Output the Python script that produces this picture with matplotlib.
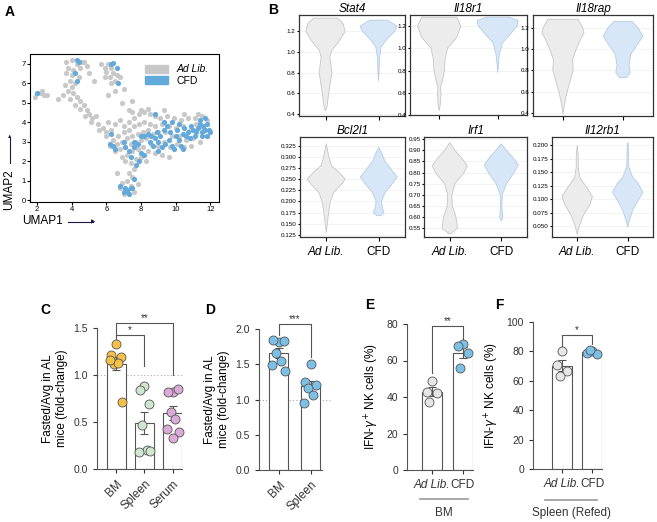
import numpy as np
import matplotlib.pyplot as plt
from matplotlib.patches import Patch
from matplotlib.lines import Line2D

plt.rcParams['font.family'] = ['Liberation Sans', 'DejaVu Sans']

W, H = 657, 522

# ---- panel A: UMAP points
al_pts = [(3.7,7.1),(4.0,7.2),(4.3,7.0),(4.6,7.1),(3.8,6.8),(4.1,6.7),(4.5,6.8),(4.9,6.9),(3.7,6.5),(4.0,6.4),
          (4.4,6.3),(3.9,6.1),(4.2,6.0),(3.6,5.9),(4.0,5.8),(3.8,5.6),(4.1,5.5),(3.5,5.4),(4.3,5.3),(3.9,5.2),
          (4.5,5.1),(4.2,4.9),(4.7,4.9),(4.5,4.7),(4.9,4.6),(5.0,4.4),(4.8,4.3),(5.2,4.2),(5.4,4.3),(5.1,4.0),
          (5.5,3.9),(5.8,3.7),(5.6,3.6),(6.0,3.5),(4.7,7.1),(5.0,6.5),(3.2,5.2),
          (5.7,7.0),(5.9,6.8),(6.1,7.0),(6.3,6.8),(6.0,6.6),(6.4,6.5),(6.2,6.3),(6.6,6.4),(5.9,6.3),(6.5,6.1),
          (6.8,6.3),(6.3,6.0),(5.3,6.1),(6.5,5.6),(6.1,5.4),(7.0,5.7),(7.5,5.1),(6.9,5.0),(7.3,4.6),
          (1.9,5.3),(2.2,5.5),(2.4,5.4),(2.6,5.4),(2.3,5.6),
          (6.0,3.3),(6.3,3.6),(6.5,3.9),(6.8,4.1),(7.0,3.8),(7.3,4.0),(7.6,4.2),(7.9,4.4),(8.2,4.5),(8.5,4.4),
          (8.8,4.3),(9.1,4.2),(9.5,4.3),(9.9,4.2),(10.3,4.1),(10.7,4.2),(11.1,4.2),(11.5,4.3),(11.8,4.1),
          (6.4,3.1),(6.7,3.3),(7.0,3.5),(7.3,3.6),(7.6,3.8),(7.9,3.9),(8.2,4.0),(8.5,3.9),(8.8,3.8),(9.2,3.9),
          (9.6,3.8),(10.0,3.7),(10.4,3.8),(10.8,3.6),(11.2,3.9),(11.6,3.7),
          (6.2,2.8),(6.6,2.9),(6.9,3.0),(7.2,3.2),(7.5,3.3),(7.8,3.4),(8.1,3.5),(8.4,3.6),(8.7,3.4),(9.0,3.5),
          (9.4,3.5),(9.8,3.3),(10.2,3.3),(10.6,3.1),(11.0,3.2),(11.4,3.0),(11.8,3.3),
          (6.5,2.5),(6.8,2.6),(7.1,2.7),(7.4,2.9),(7.7,3.0),(8.0,3.1),(8.3,3.2),(8.6,2.9),(9.0,2.8),(9.3,3.0),
          (9.7,2.7),(10.1,2.9),(10.5,2.7),(10.9,2.8),
          (6.9,2.2),(7.2,2.3),(7.5,2.5),(7.8,2.6),(8.1,2.7),(8.4,2.5),(8.8,2.4),(9.2,2.3),(9.6,2.2),(7.1,2.0),
          (7.4,1.9),(7.7,2.1),(8.0,2.2),(8.3,2.0),
          (7.6,1.6),(7.3,1.4),(7.5,1.2),(7.2,1.0),(6.9,0.9),(6.8,0.6),(6.6,1.4),(7.0,0.3),(7.6,0.4),(7.8,0.8),
          (7.4,0.7),(8.0,4.6),(8.4,4.7),(7.5,4.5),(9.3,4.6),(10.5,4.4),(11.3,4.4),(6.1,4.0)]
cfd_pts = [(4.3,7.2),(4.4,7.1),(4.2,6.5),(4.3,6.1),(6.3,7.0),(6.4,7.05),(6.6,6.8),(6.7,6.0),(2.0,5.5),(8.8,4.4),
           (6.3,3.4),(6.2,2.9),(6.4,2.8),(6.5,2.6),
           (7.0,3.0),(7.1,2.7),(7.3,2.5),(7.4,2.2),(7.6,2.7),(7.8,2.9),(8.0,2.4),(8.2,2.3),(7.9,2.0),(7.7,1.8),
           (7.6,1.1),(7.4,0.6),(7.5,0.6),(7.2,0.5),(7.0,0.4),(7.3,0.3),(7.1,0.6),(6.8,0.7),(7.2,0.45),
           (8.2,3.3),(8.4,3.4),(8.6,3.3),(8.8,3.2),(8.9,3.5),(9.1,3.3),(9.0,3.0),(9.2,2.7),(9.4,2.9),(9.6,3.1),
           (9.8,2.8),(9.3,3.6),(9.5,3.8),(9.7,3.5),(10.0,3.3),(10.2,3.1),(10.4,3.4),(10.6,3.3),(10.8,3.2),
           (10.3,2.8),(9.9,2.6),(10.1,3.6),(10.5,3.7),(10.7,3.5),(10.9,3.8),(11.0,3.6),(11.2,3.5),(11.3,3.7),
           (11.4,3.9),(11.5,3.5),(11.6,3.8),(11.7,3.6),(11.8,3.9),(11.9,3.6),(12.0,3.5),(11.1,3.3),(11.5,3.3),
           (11.8,3.3),(11.4,4.1),(11.7,4.2),(9.3,4.0),(9.8,4.0),(10.2,3.9),(8.7,2.8),(8.5,3.0),(9.0,2.5),
           (10.4,2.6),(8.0,3.3),(7.6,3.0)]

# ---- panel B: violin outlines (value, half width)
genes = ['Stat4', 'Il18r1', 'Il18rap', 'Bcl2l1', 'Irf1', 'Il12rb1']
violin_al = {
    'Stat4':   [(0.43,0),(0.48,0.03),(0.6,0.06),(0.7,0.09),(0.8,0.12),(0.88,0.10),(0.95,0.08),(1.02,0.12),(1.1,0.25),(1.2,0.37),(1.28,0.33),(1.33,0.22)],
    'Il18r1':  [(0.44,0),(0.5,0.02),(0.6,0.03),(0.65,0.02),(0.7,0.05),(0.8,0.09),(0.9,0.1),(1.0,0.14),(1.1,0.3),(1.2,0.37),(1.28,0.3)],
    'Il18rap': [(0.39,0),(0.5,0.03),(0.6,0.07),(0.7,0.12),(0.8,0.17),(0.9,0.16),(1.0,0.22),(1.1,0.3),(1.15,0.35),(1.2,0.33),(1.28,0.25)],
    'Bcl2l1':  [(0.13,0),(0.15,0.02),(0.18,0.05),(0.2,0.08),(0.22,0.14),(0.24,0.3),(0.25,0.36),(0.265,0.25),(0.28,0.1),(0.3,0.05),(0.33,0)],
    'Irf1':    [(0.525,0.02),(0.55,0.15),(0.6,0.12),(0.65,0.05),(0.7,0.04),(0.75,0.1),(0.8,0.28),(0.83,0.34),(0.86,0.25),(0.9,0.1),(0.935,0)],
    'Il12rb1': [(0.035,0),(0.05,0.04),(0.07,0.12),(0.09,0.25),(0.105,0.3),(0.12,0.2),(0.14,0.05),(0.16,0.02),(0.18,0.02),(0.2,0)],
}
violin_cfd = {
    'Stat4':   [(0.72,0),(0.8,0.01),(0.95,0.02),(1.05,0.05),(1.12,0.15),(1.2,0.3),(1.25,0.35),(1.3,0.2),(1.31,0.15)],
    'Il18r1':  [(0.78,0),(0.85,0.01),(0.95,0.03),(1.05,0.08),(1.12,0.2),(1.2,0.33),(1.25,0.35),(1.28,0.2)],
    'Il18rap': [(0.73,0.06),(0.78,0.12),(0.85,0.1),(0.95,0.13),(1.05,0.25),(1.12,0.33),(1.2,0.25),(1.26,0.15)],
    'Bcl2l1':  [(0.168,0.04),(0.175,0.1),(0.185,0.07),(0.2,0.05),(0.22,0.12),(0.24,0.26),(0.255,0.35),(0.27,0.25),(0.29,0.12),(0.31,0.05),(0.322,0)],
    'Irf1':    [(0.585,0.01),(0.6,0.03),(0.65,0.01),(0.7,0.02),(0.75,0.1),(0.8,0.25),(0.835,0.33),(0.87,0.22),(0.9,0.1),(0.93,0)],
    'Il12rb1': [(0.048,0),(0.06,0.03),(0.08,0.1),(0.1,0.22),(0.113,0.3),(0.13,0.2),(0.14,0.1),(0.16,0.02),(0.2,0.01),(0.205,0)],
}
violin_ylim = {'Stat4': (0.38, 1.36), 'Il18r1': (0.4, 1.3), 'Il18rap': (0.37, 1.32),
               'Bcl2l1': (0.12, 0.345), 'Irf1': (0.51, 0.96), 'Il12rb1': (0.03, 0.215)}
violin_ticks = {'Stat4': [0.4, 0.6, 0.8, 1.0, 1.2], 'Il18r1': [0.4, 0.6, 0.8, 1.0, 1.2],
                'Il18rap': [0.4, 0.6, 0.8, 1.0, 1.2],
                'Bcl2l1': [0.125, 0.15, 0.175, 0.2, 0.225, 0.25, 0.275, 0.3, 0.325],
                'Irf1': [0.55, 0.6, 0.65, 0.7, 0.75, 0.8, 0.85, 0.9, 0.95],
                'Il12rb1': [0.05, 0.075, 0.1, 0.125, 0.15, 0.175, 0.2]}

# ---- panels C-F
c_groups = ['BM', 'Spleen', 'Serum']
c_vals = [[1.33, 1.21, 1.19, 1.12, 1.13, 1.16, 0.71],
          [0.88, 0.84, 0.69, 0.47, 0.20, 0.18, 0.19],
          [0.82, 0.82, 0.85, 0.61, 0.53, 0.43, 0.39, 0.33]]
c_colors = ['#f6c146', '#cfe6cf', '#dcaad8']
d_groups = ['BM', 'Spleen']
d_vals = [[1.82, 1.85, 1.83, 1.66, 1.55, 1.49, 1.41],
          [1.50, 1.25, 1.20, 1.17, 1.07, 0.95]]
e_vals = [[49, 43, 42, 37], [69, 68, 64, 56]]
f_vals = [[80, 71, 67, 63], [80, 79, 78, 81]]
ef_colors = ['#e6e6e6', '#7dc0e6']

fig = plt.figure(figsize=(W / 100, H / 100), dpi=100)


def px_axes(l, t, r, b):
    return fig.add_axes([l / W, 1 - b / H, (r - l) / W, (b - t) / H])


def letter(x, y, s):
    fig.text(x / W, 1 - y / H, s, fontsize=10, fontweight='bold', va='center')


# A
ax = px_axes(30, 54, 219, 202)
al = np.array(al_pts)
cf = np.array(cfd_pts)
ax.scatter(al[:, 0], al[:, 1], s=14, color='#c8c8c8', linewidths=0)
ax.scatter(cf[:, 0], cf[:, 1], s=14, color='#63aadc', linewidths=0)
ax.set_xlim(1.6, 12.5)
ax.set_ylim(-0.1, 7.5)
ax.set_xticks([2, 4, 6, 8, 10, 12])
ax.set_yticks(range(8))
ax.tick_params(labelsize=5.5, length=2, pad=1)
ax.legend(handles=[Patch(color='#c8c8c8', label='Ad Lib.'), Patch(color='#63aadc', label='CFD')],
          loc='upper right', frameon=False, fontsize=7.5, handlelength=2.2, handleheight=0.8,
          labelspacing=0.15, borderaxespad=0.6)
ax.get_legend().get_texts()[0].set_style('italic')
fig.text(22 / W, 1 - 221 / H, 'UMAP1', fontsize=8.5, va='center')
fig.add_artist(Line2D([68 / W, 93 / W], [1 - 222 / H] * 2, color='#1a1a4a', lw=0.8))
fig.text(95 / W, 1 - 222 / H, '\u25B6', fontsize=4, va='center', ha='right', color='#1a1a4a')
fig.text(9 / W, 1 - 190 / H, 'UMAP2', fontsize=8.5, rotation=90, ha='center', va='center')
fig.add_artist(Line2D([10 / W] * 2, [1 - 163 / H, 1 - 138 / H], color='#1a1a4a', lw=0.8))
fig.text(10 / W, 1 - 137 / H, '\u25B2', fontsize=4, va='center', ha='center', color='#1a1a4a')
letter(5, 12, 'A')

# B
boxes = [(299, 15, 405, 116), (410, 15, 527, 115), (533, 15, 653, 116),
         (300, 137, 405, 237), (424, 137, 527, 237), (552, 137, 653, 237)]
for i, g in enumerate(genes):
    ax = px_axes(*boxes[i])
    for k, (prof, fc, ec) in enumerate([(violin_al[g], '#ececec', '#c6c6c6'),
                                        (violin_cfd[g], '#d7e7f8', '#b6cce4')]):
        p = np.array(prof)
        xs = np.concatenate([k - p[:, 1], (k + p[:, 1])[::-1]])
        ys = np.concatenate([p[:, 0], p[::-1, 0]])
        ax.fill(xs, ys, facecolor=fc, edgecolor=ec, lw=0.6, zorder=2)
    ax.set_xlim(-0.5, 1.5)
    ax.set_ylim(*violin_ylim[g])
    ax.set_yticks(violin_ticks[g])
    if g == 'Irf1':
        fmt = '%.2f'
    elif i >= 3:
        fmt = '%.3f'
    else:
        fmt = '%.1f'
    ax.set_yticklabels([fmt % t for t in violin_ticks[g]])
    ax.grid(axis='y', color='#eeeeee', lw=0.5)
    ax.set_axisbelow(True)
    ax.tick_params(axis='y', labelsize=4.5, length=1.5, pad=1)
    ax.set_xticks([0, 1])
    ax.tick_params(axis='x', length=3)
    if i >= 3:
        ax.set_xticklabels(['Ad Lib.', 'CFD'], fontsize=8.5)
        ax.get_xticklabels()[0].set_style('italic')
    else:
        ax.set_xticklabels([])
    for s in ax.spines.values():
        s.set_color('#333333')
        s.set_linewidth(0.9)
    ax.set_title(g, fontsize=8.5, style='italic', pad=2)
letter(268, 10, 'B')

jitter = [0.0, -0.17, 0.17, -0.08, 0.08, -0.2, 0.2, 0.0]


def bar_panel(box, vals, colors, xlim, ylim, ticks, width):
    ax = px_axes(*box)
    for i, v in enumerate(vals):
        m = np.mean(v)
        se = np.std(v, ddof=1) / np.sqrt(len(v))
        ax.bar(i, m, width=width, color='white', edgecolor='#555555', lw=0.8, zorder=1)
        ax.errorbar(i, m, yerr=se, color='#555555', capsize=3, lw=0.8, capthick=0.8, zorder=2)
        ax.scatter(i + np.array(jitter[:len(v)]), v, s=42,
                   color=colors[i], edgecolor='#555555', lw=0.6, zorder=3, clip_on=False)
    ax.set_xlim(*xlim)
    ax.set_ylim(*ylim)
    ax.set_yticks(ticks)
    for s in ['top', 'right']:
        ax.spines[s].set_visible(False)
    for s in ['left', 'bottom']:
        ax.spines[s].set_color('#555555')
        ax.spines[s].set_linewidth(0.8)
    ax.tick_params(labelsize=7.5, colors='#333333', length=3, width=0.8)
    return ax


def bracket(ax, x1, x2, y, d1, d2, txt):
    ax.plot([x1, x1, x2, x2], [d1, y, y, d2], color='#555555', lw=0.8, clip_on=False)
    ax.text((x1 + x2) / 2, y, txt, ha='center', va='bottom', fontsize=7, color='#333333')


ylab = 'Fasted/Avg in AL\nmice (fold-change)'
# C
ax = bar_panel((97, 328, 182, 469), c_vals, c_colors, (-0.67, 2.32), (0, 1.5), [0, 0.5, 1.0, 1.5], 0.67)
ax.axhline(1.0, color='#aaaaaa', ls=(0, (1, 2)), lw=0.8, zorder=0)
ax.set_xticks(range(3))
ax.set_xticklabels(c_groups, rotation=45, ha='right', rotation_mode='anchor', fontsize=8.5)
ax.set_ylabel(ylab, fontsize=8.5)
bracket(ax, 0, 1, 1.43, 1.38, 1.1, '*')
bracket(ax, 0, 2, 1.55, 1.43, 1.0, '**')
letter(40, 310, 'C')

# D
ax = bar_panel((259, 329, 322, 470), d_vals, ['#7dc0e6'] * 2, (-0.62, 1.35), (0, 2.0), [0, 0.5, 1.0, 1.5, 2.0], 0.6)
ax.plot([-0.62, 1.6], [1.0, 1.0], color='#aaaaaa', ls=(0, (1, 2)), lw=0.8, clip_on=False, zorder=0)
ax.set_xticks(range(2))
ax.set_xticklabels(d_groups, rotation=45, ha='right', rotation_mode='anchor', fontsize=8.5)
ax.set_ylabel(ylab, fontsize=8.5)
bracket(ax, 0, 1, 2.07, 1.92, 1.6, '***')
letter(205, 310, 'D')

# E
ylab2 = 'IFN-$\\gamma^{+}$ NK cells (%)'
ax = bar_panel((407, 324, 473, 470), e_vals, ef_colors, (-0.8, 1.33), (0, 80), [0, 20, 40, 60, 80], 0.65)
ax.set_xticks(range(2))
ax.set_xticklabels(['Ad Lib.', 'CFD'], fontsize=8.5)
ax.get_xticklabels()[0].set_style('italic')
ax.set_ylabel(ylab2, fontsize=8.5)
bracket(ax, 0, 1, 79, 53, 72, '**')
fig.add_artist(Line2D([420 / W, 468 / W], [1 - 499 / H] * 2, color='#999999', lw=1.2))
fig.text(444 / W, 1 - 513 / H, 'BM', fontsize=8.5, ha='center', va='center', color='#333333')
letter(365, 305, 'E')

# F
ax = bar_panel((533, 322, 602, 469), f_vals, ef_colors, (-0.97, 1.33), (0, 100), [0, 20, 40, 60, 80, 100], 0.65)
ax.set_xticks(range(2))
ax.set_xticklabels(['Ad Lib.', 'CFD'], fontsize=8.5)
ax.get_xticklabels()[0].set_style('italic')
ax.set_ylabel(ylab2, fontsize=8.5)
bracket(ax, 0, 1, 91, 84, 85, '*')
fig.add_artist(Line2D([545 / W, 597 / W], [1 - 500 / H] * 2, color='#999999', lw=1.2))
fig.text(571 / W, 1 - 513 / H, 'Spleen (Refed)', fontsize=8.5, ha='center', va='center', color='#333333')
letter(495, 305, 'F')

fig.savefig('out.png', dpi=100)
